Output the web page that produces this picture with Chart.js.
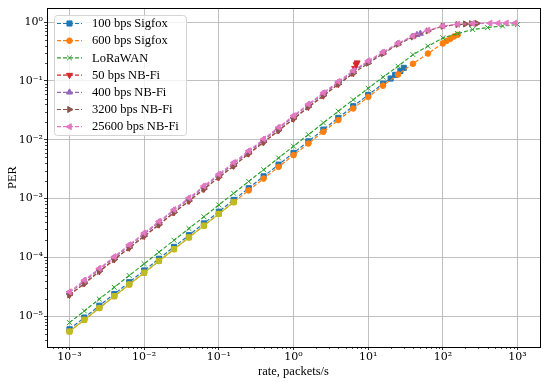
<!DOCTYPE html>
<html>
<head>
<meta charset="utf-8">
<script src="https://cdn.jsdelivr.net/npm/chart.js@4/dist/chart.umd.min.js"></script>
<style>
html,body{margin:0;padding:0;background:#fff;}
#wrap{width:550px;height:383px;position:relative;}
</style>
</head>
<body>
<div id="wrap"><canvas id="c"></canvas></div>
<script>
// ---------------- data ----------------
const rateGrid = [0.001,0.00158,0.00251,0.00398,0.00631,0.01,0.0158,0.0251,0.0398,0.0631,
                  0.1,0.158,0.251,0.398,0.631,1,1.58,2.51,3.98,6.31,
                  10,15.8,25.1,39.8,63.1,100,158,251,398,631,1000];

const sigfox100Rate = rateGrid.slice(0,22).concat([20,23,27,30]);
const sigfox100PER  = [6.0e-6,9.5e-6,1.51e-5,2.39e-5,3.79e-5,6.0e-5,9.5e-5,1.51e-4,2.39e-4,3.79e-4,
                       6.0e-4,9.5e-4,1.5e-3,2.39e-3,3.78e-3,5.98e-3,9.4e-3,0.0149,0.0236,0.0372,
                       0.058,0.09,0.11,0.127,0.148,0.167];

const sigfox600Rate = rateGrid.slice(0,26).concat([112,126,141,158]);
const sigfox600PER  = [5.5e-6,8.7e-6,1.38e-5,2.19e-5,3.47e-5,5.5e-5,8.7e-5,1.38e-4,2.19e-4,3.47e-4,
                       5.5e-4,8.7e-4,1.38e-3,2.19e-3,3.46e-3,5.48e-3,8.65e-3,0.0137,0.0216,0.0341,
                       0.0535,0.0832,0.129,0.196,0.293,0.435,0.48,0.52,0.57,0.61];

const loraRate = rateGrid.slice();
const loraPER  = [7.8e-6,1.23e-5,1.96e-5,3.1e-5,4.92e-5,7.8e-5,1.23e-4,1.96e-4,3.1e-4,4.92e-4,
                  7.8e-4,1.23e-3,1.96e-3,3.1e-3,4.91e-3,7.77e-3,0.0122,0.0194,0.0306,0.048,
                  0.075,0.116,0.178,0.28,0.39,0.54,0.64,0.75,0.81,0.86,0.91];

const nbfi50Rate = rateGrid.slice(0,20).concat([6.6,6.9,7.1]);
const nbfi50PER  = [2.3e-5,3.6e-5,5.8e-5,9.2e-5,1.45e-4,2.3e-4,3.6e-4,5.8e-4,9.1e-4,1.45e-3,
                    2.3e-3,3.6e-3,5.8e-3,9.1e-3,0.0144,0.0227,0.036,0.056,0.088,0.135,
                    0.165,0.19,0.205];

const nbfi400Rate = rateGrid.slice(0,24).concat([45,50]);
const nbfi400PER  = [2.5e-5,3.95e-5,6.3e-5,9.9e-5,1.58e-4,2.5e-4,3.95e-4,6.3e-4,9.9e-4,1.58e-3,
                     2.5e-3,3.9e-3,6.2e-3,9.9e-3,0.0157,0.0247,0.039,0.061,0.094,0.145,
                     0.21,0.30,0.43,0.57,0.61,0.64];

const nbfi3200Rate = rateGrid.slice(0,27).concat([200,240,288]);
const nbfi3200PER  = [2.3e-5,3.6e-5,5.8e-5,9.2e-5,1.45e-4,2.3e-4,3.6e-4,5.8e-4,9.1e-4,1.45e-3,
                      2.3e-3,3.6e-3,5.8e-3,9.1e-3,0.0144,0.0227,0.036,0.056,0.088,0.135,
                      0.2,0.29,0.42,0.56,0.71,0.85,0.91,0.93,0.94,0.95];

const nbfi25600Rate = rateGrid.slice(0,28).concat([430,550,710,930]);
const nbfi25600PER  = [2.6e-5,4.1e-5,6.5e-5,1.03e-4,1.64e-4,2.6e-4,4.1e-4,6.5e-4,1.03e-3,1.64e-3,
                       2.6e-3,4.1e-3,6.5e-3,0.0103,0.0163,0.0257,0.0403,0.063,0.098,0.15,
                       0.22,0.31,0.44,0.58,0.73,0.86,0.92,0.95,0.96,0.96,0.965,0.965];

// unlabeled extra curve (olive, solid) visible at low rates
const extraRate = rateGrid.slice(0,12);
const extraPER  = [5.5e-6,8.7e-6,1.38e-5,2.19e-5,3.47e-5,5.5e-5,8.7e-5,1.38e-4,2.19e-4,3.47e-4,5.5e-4,8.7e-4];

const xTickValues = [1e-3,1e-2,1e-1,1,1e1,1e2,1e3];
const xTickLabels = ['10\u207B\u00B3','10\u207B\u00B2','10\u207B\u00B9','10\u2070','10\u00B9','10\u00B2','10\u00B3'];
const yTickValues = [1e-5,1e-4,1e-3,1e-2,1e-1,1];
const yTickLabels = ['10\u207B\u2075','10\u207B\u2074','10\u207B\u00B3','10\u207B\u00B2','10\u207B\u00B9','10\u2070'];

const xTitle = 'rate, packets/s';
const yTitle = 'PER';

// ---------------- chart ----------------
const FONT = "'Liberation Serif','DejaVu Serif',serif";
const TICKFONT = "'DejaVu Serif','Liberation Serif',serif";

function pts(xs, ys){ return xs.map((x,i)=>({x:x, y:ys[i]})); }

function ds(label, xs, ys, color, style, rot, r, dash, inLegend){
  return {
    label: label, data: pts(xs, ys), inLegend: inLegend,
    borderColor: color, backgroundColor: color, borderWidth: 1.2, borderDash: dash,
    pointStyle: style, pointRotation: rot, pointRadius: r, pointHoverRadius: r,
    pointBackgroundColor: color, pointBorderColor: color, pointBorderWidth: 1,
    fill: false, tension: 0
  };
}

const D = [4,2];
const datasets = [
  ds('100 bps Sigfox',   sigfox100Rate,  sigfox100PER,  '#1f77b4','rect',0,3.6,D,true),
  ds('600 bps Sigfox',   sigfox600Rate,  sigfox600PER,  '#ff7f0e','circle',0,2.8,D,true),
  ds('LoRaWAN',          loraRate,       loraPER,       '#2ca02c','crossRot',0,3.5,D,true),
  ds('50 bps NB-Fi',     nbfi50Rate,     nbfi50PER,     '#d62728','triangle',180,3.5,D,true),
  ds('400 bps NB-Fi',    nbfi400Rate,    nbfi400PER,    '#9467bd','triangle',0,3.5,D,true),
  ds('3200 bps NB-Fi',   nbfi3200Rate,   nbfi3200PER,   '#8c564b','triangle',90,3.5,D,true),
  ds('25600 bps NB-Fi',  nbfi25600Rate,  nbfi25600PER,  '#e377c2','triangle',270,3.5,D,true),
  ds('',                 extraRate,      extraPER,      '#bcbd22','rect',0,3.6,[],false)
];
// matplotlib draws later series on top
datasets.forEach((d,i)=>{ d.order = datasets.length - i; });

const minorTicks = {
  id: 'minorTicks',
  afterDraw(chart){
    const {ctx, chartArea:a, scales:{x, y}} = chart;
    ctx.save();
    ctx.strokeStyle = '#000'; ctx.lineWidth = 0.7;
    ctx.beginPath();
    for (let e = -4; e <= 3; e++) {
      for (let m = 2; m <= 9; m++) {
        const v = m * Math.pow(10, e);
        if (v <= x.min || v >= x.max) continue;
        const px = Math.round(x.getPixelForValue(v)) + 0.5;
        ctx.moveTo(px, a.bottom); ctx.lineTo(px, a.bottom + 2);
      }
    }
    for (let e = -7; e <= 0; e++) {
      for (let m = 2; m <= 9; m++) {
        const v = m * Math.pow(10, e);
        if (v <= y.min || v >= y.max) continue;
        const py = Math.round(y.getPixelForValue(v)) + 0.5;
        ctx.moveTo(a.left, py); ctx.lineTo(a.left - 2, py);
      }
    }
    ctx.stroke();
    // frame
    ctx.lineWidth = 1;
    ctx.strokeRect(Math.round(a.left)+0.5, Math.round(a.top)+0.5,
                   Math.round(a.right - a.left), Math.round(a.bottom - a.top));
    ctx.restore();
  }
};

const mplLegend = {
  id: 'mplLegend',
  afterDatasetsDraw(chart){
    const ctx = chart.ctx;
    const items = chart.data.datasets.filter(d => d.inLegend);
    const x0 = 54, y0 = 15, w = 132, h = 120, rr = 3, rowH = 17.2;
    ctx.save();
    ctx.beginPath();
    ctx.moveTo(x0+rr, y0+0.5);
    ctx.arcTo(x0+w+0.5, y0+0.5, x0+w+0.5, y0+h, rr);
    ctx.arcTo(x0+w+0.5, y0+h+0.5, x0, y0+h+0.5, rr);
    ctx.arcTo(x0+0.5, y0+h+0.5, x0+0.5, y0, rr);
    ctx.arcTo(x0+0.5, y0+0.5, x0+w, y0+0.5, rr);
    ctx.closePath();
    ctx.fillStyle = 'rgba(255,255,255,0.8)';
    ctx.fill();
    ctx.strokeStyle = '#d4d4d4'; ctx.lineWidth = 1;
    ctx.stroke();
    items.forEach((d, i) => {
      const cy = 23.5 + i * rowH;
      ctx.strokeStyle = d.borderColor; ctx.lineWidth = d.borderWidth;
      ctx.setLineDash(d.borderDash || []);
      ctx.beginPath(); ctx.moveTo(57, cy); ctx.lineTo(82, cy); ctx.stroke();
      ctx.setLineDash([]);
      ctx.fillStyle = d.pointBackgroundColor; ctx.strokeStyle = d.pointBorderColor; ctx.lineWidth = 1;
      Chart.helpers.drawPoint(ctx, {pointStyle: d.pointStyle, rotation: d.pointRotation || 0,
                                    radius: d.pointRadius, borderWidth: 1}, 69.5, cy);
      ctx.fillStyle = '#000'; ctx.font = '12.5px ' + FONT;
      ctx.textBaseline = 'middle'; ctx.textAlign = 'left';
      ctx.fillText(d.label, 92, cy + 0.5);
    });
    ctx.restore();
  }
};

new Chart(document.getElementById('c'), {
  type: 'line',
  data: { datasets: datasets },
  plugins: [minorTicks, mplLegend],
  options: {
    responsive: true, maintainAspectRatio: false, devicePixelRatio: 1,
    animation: false, events: [],
    layout: { padding: { top: 8, right: 10, left: 0, bottom: 0 } },
    plugins: { legend: { display: false }, tooltip: { enabled: false } },
    scales: {
      x: {
        type: 'logarithmic', position: 'bottom', min: 5.0e-4, max: 2.0e3,
        afterBuildTicks: s => { s.ticks = xTickValues.map(v => ({ value: v })); },
        afterFit: s => { s.height = 36; },
        ticks: { autoSkip: false, maxRotation: 0, minRotation: 0, padding: 1,
                 color: '#000', font: { family: TICKFONT, size: 11 },
                 callback: (v, i) => xTickLabels[i] },
        grid: { color: '#b0b0b0', lineWidth: 0.8, tickColor: '#000', tickLength: 3, tickWidth: 0.8 },
        border: { color: '#000', width: 1 },
        title: { display: true, text: xTitle, color: '#000', font: { family: FONT, size: 12.5 },
                 padding: { top: 0, bottom: 4 } }
      },
      y: {
        type: 'logarithmic', position: 'left', min: 3.0e-6, max: 1.74,
        afterBuildTicks: s => { s.ticks = yTickValues.map(v => ({ value: v })); },
        afterFit: s => { s.width = 47; },
        ticks: { autoSkip: false, padding: 1, color: '#000', font: { family: TICKFONT, size: 11 },
                 callback: (v, i) => yTickLabels[i] },
        grid: { color: '#b0b0b0', lineWidth: 0.8, tickColor: '#000', tickLength: 3, tickWidth: 0.8 },
        border: { color: '#000', width: 1 },
        title: { display: true, text: yTitle, color: '#000', font: { family: FONT, size: 12.5 },
                 padding: { top: 5, bottom: 0 } }
      }
    }
  }
});
</script>
</body>
</html>
